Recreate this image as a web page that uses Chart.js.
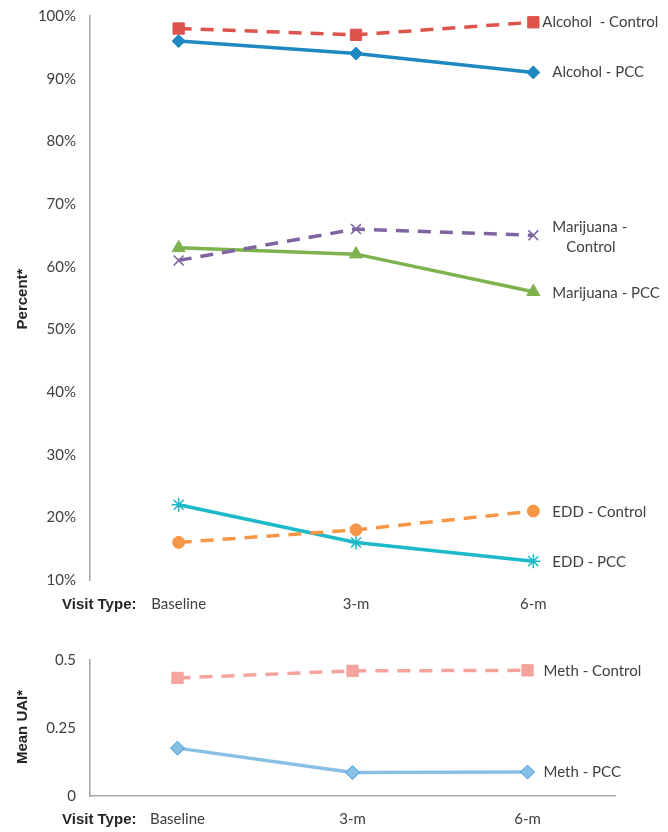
<!DOCTYPE html>
<html><head><meta charset="utf-8">
<script src="https://cdn.jsdelivr.net/npm/chart.js@4/dist/chart.umd.min.js"></script>
<style>
html,body{margin:0;padding:0;background:#fff;}
#w{position:relative;width:668px;height:832px;}
#c1{position:absolute;left:0;top:0;}
#c2{position:absolute;left:0;top:630px;}
</style></head><body>
<div id="w"><canvas id="c1" width="668" height="620"></canvas><canvas id="c2" width="668" height="202"></canvas></div>
<script>
const visits = ["Baseline", "3-m", "6-m"];
const pctTicks = [10, 20, 30, 40, 50, 60, 70, 80, 90, 100];
const uaiTicks = [0, 0.25, 0.5];
const alcoholControl = [98, 97, 99];
const alcoholPCC = [96, 94, 91];
const marijuanaControl = [61, 66, 65];
const marijuanaPCC = [63, 62, 56];
const eddControl = [16, 18, 21];
const eddPCC = [22, 16, 13];
const methControl = [0.434, 0.46, 0.462];
const methPCC = [0.176, 0.086, 0.088];

const FONT = "Lato, 'Open Sans', sans-serif";
const BFONT = "'Liberation Sans', Arial, sans-serif";
const TXT = '#404040';

function ds(label, data, color, style, dashed, radius, extra) {
  return Object.assign({
    label: label, data: data, borderColor: color, backgroundColor: color,
    pointBackgroundColor: color, pointBorderColor: color,
    borderWidth: 3.5, borderDash: dashed ? [13, 9] : [],
    pointStyle: style, pointRadius: radius, pointHoverRadius: radius,
    pointBorderWidth: 1, tension: 0
  }, extra || {});
}

// series label text lines: [text, x offset, y offset]
const seriesLabels = {
  "Alcohol  - Control": {dx: 9, lines: [["Alcohol  - Control", 0, 0]]},
  "Alcohol - PCC": {dx: 19, lines: [["Alcohol - PCC", 0, 0]]},
  "Marijuana - Control": {dx: 19, lines: [["Marijuana -", 0, -8], ["Control", 14, 12]]},
  "Marijuana - PCC": {dx: 19, lines: [["Marijuana - PCC", 0, 1]]},
  "EDD - Control": {dx: 19, lines: [["EDD - Control", 0, 1]]},
  "EDD - PCC": {dx: 19, lines: [["EDD - PCC", 0, 1]]},
  "Meth - Control": {dx: 16, lines: [["Meth - Control", 0, 1]]},
  "Meth - PCC": {dx: 16, lines: [["Meth - PCC", 0, 0]]}
};

function labelPlugin(yTitle, yTitleCenter, visitY) {
  return {
    id: 'lbl',
    afterDatasetsDraw(chart) {
      const ctx = chart.ctx;
      ctx.save();
      ctx.fillStyle = TXT;
      ctx.font = "15px " + FONT;
      ctx.textBaseline = 'middle';
      ctx.textAlign = 'left';
      chart.data.datasets.forEach((d, i) => {
        const meta = chart.getDatasetMeta(i);
        const p = meta.data[meta.data.length - 1];
        const cfg = seriesLabels[d.label];
        cfg.lines.forEach(l => ctx.fillText(l[0], p.x + cfg.dx + l[1], p.y + l[2]));
      });
      ctx.font = "bold 15px " + BFONT;
      ctx.fillStyle = '#262626';
      ctx.fillText("Visit Type:", 62, visitY + 2);
      ctx.translate(23, yTitleCenter);
      ctx.rotate(-Math.PI / 2);
      ctx.textAlign = 'center';
      ctx.fillText(yTitle, 0, 0);
      ctx.restore();
    }
  };
}

function xScale(h, showBorder, pad) {
  return {
    type: 'category', offset: true,
    grid: {display: false, drawTicks: false},
    border: {display: showBorder, color: '#a6a6a6', width: 1.5},
    ticks: {color: TXT, font: {family: FONT, size: 15}, padding: pad},
    afterFit(s) { s.height = h; }
  };
}

new Chart(document.getElementById('c1'), {
  type: 'line',
  data: {
    labels: visits,
    datasets: [
      ds("Alcohol  - Control", alcoholControl, '#DE534C', 'rect', true, 8),
      ds("Alcohol - PCC", alcoholPCC, '#1E88C0', 'rectRot', false, 6.5),
      ds("Marijuana - Control", marijuanaControl, '#8064A2', 'crossRot', true, 7, {pointBorderWidth: 1.5}),
      ds("Marijuana - PCC", marijuanaPCC, '#7DB24C', 'triangle', false, 7.5),
      ds("EDD - Control", eddControl, '#F79646', 'circle', true, 6),
      ds("EDD - PCC", eddPCC, '#1CB9C8', 'star', false, 7, {pointBorderWidth: 1.5})
    ]
  },
  options: {
    responsive: false, animation: false,
    layout: {padding: {top: 16, right: 46, left: 0, bottom: 0}},
    plugins: {legend: {display: false}, tooltip: {enabled: false}},
    scales: {
      x: xScale(40, false, 15),
      y: {
        min: 10, max: 100,
        afterBuildTicks(s) { s.ticks = pctTicks.map(v => ({value: v})); },
        grid: {display: false, drawTicks: false},
        border: {display: true, color: '#a6a6a6', width: 1.5},
        ticks: {color: TXT, font: {family: FONT, size: 15}, padding: 14, callback: v => v + '%'},
        afterFit(s) { s.width = 90; s.paddingTop = 0; s.paddingBottom = 0; }
      }
    }
  },
  plugins: [labelPlugin("Percent*", 299, 603)]
});

new Chart(document.getElementById('c2'), {
  type: 'line',
  data: {
    labels: visits,
    datasets: [
      ds("Meth - Control", methControl, '#F4A39D', 'rect', true, 8),
      ds("Meth - PCC", methPCC, '#88BFE4', 'rectRot', false, 7, {pointBorderColor: '#3E9BD4', pointBorderWidth: 1})
    ]
  },
  options: {
    responsive: false, animation: false,
    layout: {padding: {top: 30, right: 53, left: 0, bottom: 0}},
    plugins: {legend: {display: false}, tooltip: {enabled: false}},
    scales: {
      x: xScale(36, true, 14),
      y: {
        min: 0, max: 0.5,
        afterBuildTicks(s) { s.ticks = uaiTicks.map(v => ({value: v})); },
        grid: {display: false, drawTicks: false},
        border: {display: true, color: '#a6a6a6', width: 1.5},
        ticks: {color: TXT, font: {family: FONT, size: 15}, padding: 14, callback: v => String(v)},
        afterFit(s) { s.width = 90; s.paddingTop = 0; s.paddingBottom = 0; }
      }
    }
  },
  plugins: [labelPlugin("Mean UAI*", 97, 188)]
});
</script>
</body></html>
